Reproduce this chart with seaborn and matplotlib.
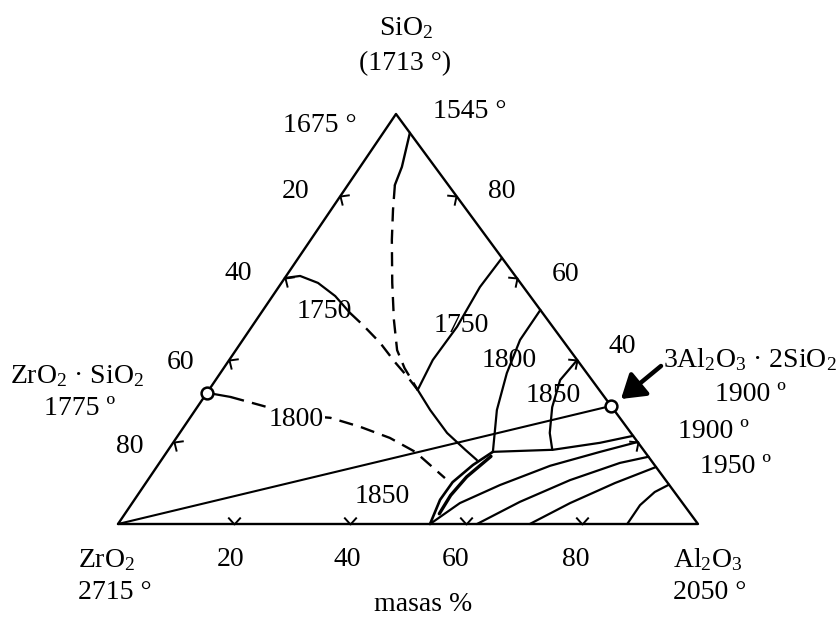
import numpy as np
import matplotlib
matplotlib.use("Agg")
import matplotlib.pyplot as plt
import seaborn as sns
from matplotlib.path import Path
from matplotlib.markers import MarkerStyle
from matplotlib.transforms import Affine2D

# compositions, mass % (Al2O3, SiO2); ZrO2 is the rest
apex_al = [4.6, 7.2, 8.1, 10.7, 14.0, 19.1, 23.7, 27.8, 31.2, 36.0]
apex_si = [95.4, 87.1, 82.7, 76.6, 69.3, 58.8, 49.8, 42.4, 38.0, 32.7]

left1750_al = [0.0, 2.4, 6.3, 10.8, 15.3, 19.0, 24.0, 28.8, 32.5, 36.0]
left1750_si = [60.0, 60.5, 58.8, 55.6, 51.5, 48.5, 44.2, 39.5, 36.1, 32.7]

right1750_al = [35.1, 34.7, 35.4, 35.1, 36.0]
right1750_si = [64.9, 57.8, 48.1, 40.0, 32.7]

valley_al = [36.0, 40.5, 46.1, 51.2, 54.4]
valley_si = [32.7, 27.8, 22.2, 18.1, 15.6]

right1800_al = [47.8, 47.8, 49.4, 52.0, 56.2]
right1800_si = [52.2, 44.9, 36.8, 27.8, 17.6]

iso1850_al = [60.0, 59.4, 61.2, 63.8, 66.2]
iso1850_si = [40.0, 35.1, 28.5, 22.2, 18.1]

upper_al = [56.2, 66.3, 73.6, 78.5]
upper_si = [17.6, 18.1, 19.8, 21.5]

lens_al = [53.8, 52.7, 52.8, 54.3, 56.2]
lens_si = [0.0, 5.9, 10.2, 14.4, 17.6]
lens_hatch_al = [54.2, 54.0, 54.6, 56.4]
lens_hatch_si = [2.5, 7.0, 11.5, 16.5]

diag1_al = [53.8, 56.5, 61.3, 67.7, 74.7, 80.0]
diag1_si = [0.0, 5.1, 9.5, 14.2, 17.6, 20.0]
diag2_al = [61.9, 66.7, 72.8, 79.4, 83.6]
diag2_si = [0.0, 5.4, 10.7, 14.9, 16.4]
diag3_al = [71.0, 75.5, 80.9, 86.1]
diag3_si = [0.0, 5.1, 10.0, 13.9]

corundum_al = [87.8, 87.8, 88.8, 90.4]
corundum_si = [0.0, 4.6, 7.8, 9.6]

left1800_al = [0.0, 4.5, 10.6, 17.8, 24.2, 30.4, 36.8, 42.8, 51.0]
left1800_si = [32.0, 31.0, 29.0, 26.6, 25.9, 23.7, 21.0, 17.6, 11.2]

# compounds: zircon and mullite
compound_al = [0.0, 71.2]
compound_si = [32.0, 28.8]

tick_values = [20, 40, 60, 80]

sns.set_theme(style="white")
plt.rcParams["font.family"] = ["Liberation Serif", "DejaVu Serif"]
plt.rcParams["mathtext.fontset"] = "custom"
plt.rcParams["mathtext.rm"] = "Liberation Serif"
plt.rcParams["mathtext.it"] = "Liberation Serif:italic"

SKEW = 0.4793  # the apex of the drawn triangle sits a little left of centre
HGT = 0.7069


def tern(al, si):
    al = np.asarray(al, float) / 100
    si = np.asarray(si, float) / 100
    return al + SKEW * si, HGT * si


def px(x, y):
    # picture pixels -> axes data, for placing the labels
    return (x - 118) / 580, (524 - y) / 580


fig = plt.figure(figsize=(8.38, 6.19), dpi=100)
ax = fig.add_axes([0, 0, 1, 1])
ax.set_xlim(-118 / 580, 720 / 580)
ax.set_ylim(-95 / 580, 524 / 580)
ax.set_axis_off()

DASH = (0, (6, 3.5))


def curve(al, si, ls="-", lw=1.6):
    x, y = tern(al, si)
    sns.lineplot(x=x, y=y, sort=False, estimator=None, color="black",
                 linewidth=lw, linestyle=ls, ax=ax)


# triangle and the ZrO2 - mullite join
curve([0, 100, 0, 0], [0, 0, 100, 0], lw=1.7)
curve([0, compound_al[1]], [0, compound_si[1]], lw=1.5)

# boundary curves and isotherms
curve(apex_al[:3], apex_si[:3], lw=1.7)
curve(apex_al[2:], apex_si[2:], ls=DASH, lw=1.7)
curve(left1750_al[:5], left1750_si[:5])
curve(left1750_al[4:], left1750_si[4:], ls=DASH, lw=1.7)
curve(right1750_al, right1750_si)
curve(valley_al, valley_si)
curve(right1800_al, right1800_si)
curve(iso1850_al, iso1850_si)
curve(upper_al, upper_si)
curve(lens_al, lens_si, lw=1.9)
curve(lens_hatch_al, lens_hatch_si, lw=2.4)
curve(diag1_al, diag1_si)
curve(diag2_al, diag2_si)
curve(diag3_al, diag3_si)
curve(corundum_al, corundum_si)
curve(left1800_al[:2], left1800_si[:2])
curve(left1800_al[1:], left1800_si[1:], ls=DASH, lw=1.7)


# small chevrons on the edges, pointing outwards
def chevron(angle):
    p = Path([(-1, 0.9), (0, 0), (-1, -0.9)], [Path.MOVETO, Path.LINETO, Path.LINETO])
    return MarkerStyle(p, fillstyle="none", transform=Affine2D().rotate_deg(angle))


t = np.array(tick_values, float)
edges = [
    (np.zeros_like(t), 100 - t, np.degrees(np.arctan2(SKEW, -HGT))),      # ZrO2 - SiO2
    (100 - t, t, np.degrees(np.arctan2(1 - SKEW, HGT))),                  # SiO2 - Al2O3
    (t, np.zeros_like(t), -90.0),                                          # ZrO2 - Al2O3
]
for al, si, ang in edges:
    x, y = tern(al, si)
    ax.plot(x, y, ls="none", marker=chevron(ang), ms=10, mew=1.4, color="black")

x, y = tern(compound_al, compound_si)
ax.plot(x, y, "o", ms=8.5, mfc="white", mec="black", mew=1.8, zorder=5)

# labels
FS = 20


def label(x, y, s, ha="center", **kw):
    ax.text(*px(x, y), s, ha=ha, va="baseline", fontsize=FS, color="black", **kw)


label(406, 35, r"SiO$_\mathrm{2}$")
label(405, 70, "(1713 °)")
label(320, 132, "1675 °")
label(470, 118, "1545 °")

for xx, yy, s in [(296, 198, "20"), (238, 280, "40"), (181, 369, "60"), (130, 453, "80")]:
    label(xx, yy, s)
for xx, yy, s in [(502, 198, "80"), (566, 281, "60"), (622, 353, "40")]:
    label(xx, yy, s)
for xx, s in [(231, "20"), (347, "40"), (456, "60"), (576, "80")]:
    label(xx, 566, s)

label(77, 383, r"ZrO$_\mathrm{2}$ · SiO$_\mathrm{2}$")
label(80, 415, "1775 º")
label(78, 567, r"ZrO$_\mathrm{2}$", ha="left")
label(78, 599, "2715 °", ha="left")
label(673, 567, r"Al$_\mathrm{2}$O$_\mathrm{3}$", ha="left")
label(673, 599, "2050 °", ha="left")
label(423, 611, "masas %")

label(750, 367, r"3Al$_\mathrm{2}$O$_\mathrm{3}$ · 2SiO$_\mathrm{2}$")
label(750, 401, "1900 º")
label(713, 438, "1900 º")
label(736, 473, "1950 º")

label(324, 318, "1750")
label(461, 332, "1750")
label(509, 367, "1800")
label(553, 402, "1850")
label(296, 426, "1800", bbox=dict(facecolor="white", edgecolor="none", pad=1))
label(382, 503, "1850")

ax.annotate("", xy=px(621, 399), xytext=px(661, 366),
            arrowprops=dict(arrowstyle="-|>,head_width=0.45,head_length=0.7",
                            lw=3.2, color="black", mutation_scale=20,
                            shrinkA=0, shrinkB=0))

fig.savefig("out.png", dpi=100, facecolor="white")
